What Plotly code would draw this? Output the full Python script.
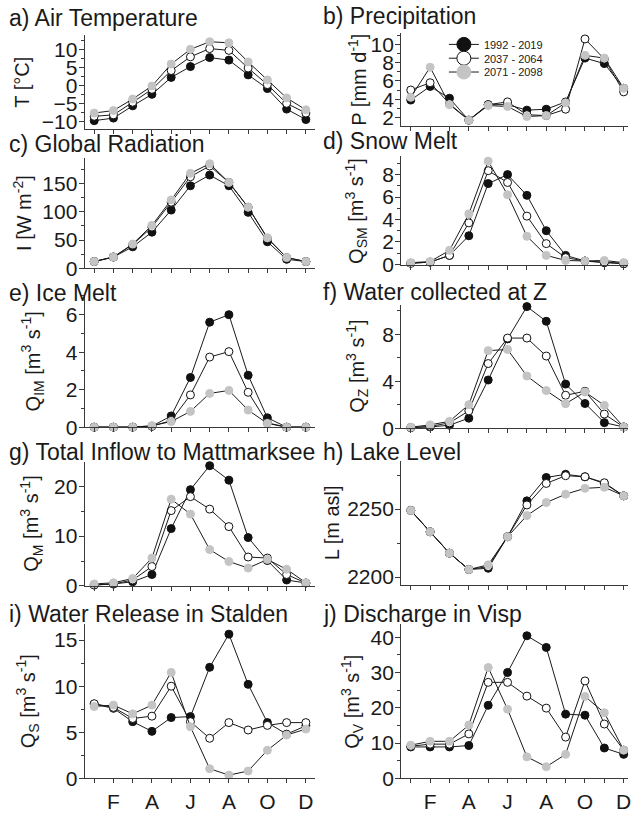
import plotly.graph_objects as go

W, H = 631, 816
months = list(range(1, 13))
month_labels = ["", "F", "", "A", "", "J", "", "A", "", "O", "", "D"]
series_names = ["1992 - 2019", "2037 - 2064", "2071 - 2098"]

# a) Air temperature [°C]
temp_1 = [-9.8, -9.1, -5.7, -2.5, 2.2, 5.2, 7.7, 7.0, 2.9, -0.9, -6.6, -9.5]
temp_2 = [-8.6, -8.2, -4.7, -1.1, 4.1, 7.9, 10.2, 9.7, 4.8, 0.2, -5.0, -7.7]
temp_3 = [-7.7, -7.0, -3.8, -0.2, 5.9, 10.0, 12.1, 11.8, 6.5, 1.5, -3.5, -6.8]
# b) Precipitation [mm/d]
prec_1 = [3.9, 5.4, 4.1, 1.7, 3.4, 3.4, 2.8, 2.9, 3.7, 8.5, 7.9, 5.2]
prec_2 = [5.0, 5.8, 3.5, 1.7, 3.4, 3.7, 2.3, 2.2, 2.9, 10.6, 8.4, 4.8]
prec_3 = [4.2, 7.5, 3.4, 1.7, 3.3, 3.2, 2.1, 2.2, 3.6, 8.8, 8.5, 5.2]
# c) Global radiation [W/m2]
rad_1 = [12, 20, 38, 64, 103, 146, 165, 146, 99, 47, 16, 12]
rad_2 = [12, 20, 42, 73, 117, 162, 181, 152, 108, 53, 19, 12]
rad_3 = [12, 20, 43, 76, 121, 168, 185, 152, 108, 54, 19, 12]
# d) Snow melt [m3/s]
snow_1 = [0.1, 0.2, 0.8, 2.55, 7.2, 8.0, 6.15, 3.0, 0.8, 0.3, 0.15, 0.05]
snow_2 = [0.1, 0.2, 0.8, 3.7, 8.35, 7.3, 4.3, 1.85, 0.6, 0.3, 0.2, 0.1]
snow_3 = [0.15, 0.25, 1.25, 4.5, 9.2, 6.2, 2.5, 0.8, 0.35, 0.3, 0.35, 0.15]
# e) Ice melt [m3/s]
ice_1 = [0.0, 0.0, 0.0, 0.05, 0.6, 2.65, 5.6, 6.0, 2.77, 0.5, 0.0, 0.0]
ice_2 = [0.0, 0.0, 0.0, 0.05, 0.35, 1.72, 3.74, 4.03, 1.86, 0.23, 0.0, 0.0]
ice_3 = [0.0, 0.0, 0.0, 0.08, 0.3, 0.84, 1.8, 1.96, 0.91, 0.2, 0.0, 0.0]
# f) Water collected at Z [m3/s]
qz_1 = [0.05, 0.1, 0.25, 0.85, 4.1, 7.6, 10.35, 9.1, 3.75, 2.1, 0.47, 0.1]
qz_2 = [0.05, 0.15, 0.45, 1.47, 5.5, 7.67, 7.67, 6.14, 2.8, 3.14, 1.2, 0.1]
qz_3 = [0.08, 0.28, 0.58, 2.0, 6.6, 6.7, 4.44, 3.2, 2.08, 3.08, 1.94, 0.1]
# g) Total inflow to Mattmarksee [m3/s]
qm_1 = [0.2, 0.4, 0.85, 2.3, 11.5, 19.3, 24.1, 21.2, 9.7, 5.1, 1.2, 0.6]
qm_2 = [0.2, 0.4, 1.2, 3.9, 15.1, 17.9, 15.4, 11.9, 5.8, 5.6, 2.3, 0.6]
qm_3 = [0.4, 0.65, 1.5, 5.6, 17.4, 14.4, 7.3, 4.9, 3.6, 5.3, 3.35, 0.65]
# h) Lake level [m asl]
lake_1 = [2249, 2233.3, 2217.6, 2205.6, 2206.5, 2229.7, 2256, 2273.2, 2275.5, 2273.7, 2268.8, 2259.7]
lake_2 = [2249, 2233.3, 2217.6, 2205.6, 2207.7, 2229.7, 2253, 2268.8, 2274.5, 2273.7, 2269.3, 2259.7]
lake_3 = [2249, 2233.3, 2217.6, 2205.6, 2209.0, 2229.7, 2245.2, 2254.8, 2260.9, 2265.2, 2266.0, 2259.7]
# i) Water release in Stalden [m3/s]
qs_1 = [8.05, 7.6, 6.15, 5.1, 6.6, 6.7, 12.05, 15.65, 10.2, 6.05, 4.8, 5.7]
qs_2 = [8.1, 7.7, 6.5, 6.75, 10.0, 6.15, 4.35, 6.05, 5.25, 5.75, 6.05, 6.05]
qs_3 = [7.8, 7.95, 7.0, 7.95, 11.5, 5.6, 1.05, 0.35, 0.8, 3.05, 4.7, 5.35]
# j) Discharge in Visp [m3/s]
qv_1 = [8.9, 8.9, 8.9, 9.3, 20.7, 30.0, 40.4, 37.1, 18.2, 17.9, 8.6, 6.8]
qv_2 = [9.1, 9.7, 9.7, 12.6, 27.2, 27.2, 23.3, 19.9, 11.7, 27.6, 15.4, 8.0]
qv_3 = [9.4, 10.5, 10.5, 15.1, 31.4, 19.6, 6.1, 3.3, 6.8, 23.2, 18.6, 8.0]

panels = [
    # title, ytitle, data, box px (x0,x1,y0,y1), yrange, dtick, minor, ytitle x px
    ("a) Air Temperature", "T [°C]", (temp_1, temp_2, temp_3), (85, 317, 35, 131), (-12.19, 14.1), 5, 2.5, 22),
    ("b) Precipitation", "P [mm d<sup>-1</sup>]", (prec_1, prec_2, prec_3), (403, 631, 33, 128), (1.03, 11.3), 2, 1, 359),
    ("c) Global Radiation", "I [W m<sup>-2</sup>]", (rad_1, rad_2, rad_3), (85, 317, 160, 272), (0, 195.4), 50, 25, 22),
    ("d) Snow Melt", "Q<sub>SM</sub> [m<sup>3</sup> s<sup>-1</sup>]", (snow_1, snow_2, snow_3), (403, 631, 158, 269), (-0.09, 9.67), 2, 1, 358),
    ("e) Ice Melt", "Q<sub>IM</sub> [m<sup>3</sup> s<sup>-1</sup>]", (ice_1, ice_2, ice_3), (85, 317, 300, 433), (0, 7.0), 2, 1, 33),
    ("f) Water collected at Z", "Q<sub>Z</sub> [m<sup>3</sup> s<sup>-1</sup>]", (qz_1, qz_2, qz_3), (403, 631, 309, 434), (0, 10.5), 4, 2, 359),
    ("g) Total Inflow to Mattmarksee", "Q<sub>M</sub> [m<sup>3</sup> s<sup>-1</sup>]", (qm_1, qm_2, qm_3), (85, 317, 468, 594), (0, 24.9), 10, 5, 32),
    ("h) Lake Level", "L [m asl]", (lake_1, lake_2, lake_3), (403, 631, 467, 593), (2194.2, 2285.5), 50, 25, 333),
    ("i) Water Release in Stalden", "Q<sub>S</sub> [m<sup>3</sup> s<sup>-1</sup>]", (qs_1, qs_2, qs_3), (85, 317, 633, 789), (0, 16.7), 5, 2.5, 28),
    ("j) Discharge in Visp", "Q<sub>V</sub> [m<sup>3</sup> s<sup>-1</sup>]", (qv_1, qv_2, qv_3), (403, 631, 633, 789), (0, 43.6), 10, 5, 354),
]

FONT = "Liberation Sans, Arial, sans-serif"
AX = "#3a3a3a"
styles = [
    dict(color="#111111", line=dict(color="#111111", width=1)),
    dict(color="#ffffff", line=dict(color="#111111", width=1)),
    dict(color="#c4c4c4", line=dict(color="#c4c4c4", width=1)),
]

fig = go.Figure()
layout = {}
annotations = []

def px_x(v):
    return v / W

def px_y(v):
    return 1 - v / H

for i, (title, ytitle, data, box, yr, dt, mdt, ytx) in enumerate(panels):
    n = i + 1
    sfx = "" if n == 1 else str(n)
    x0, x1, y0, y1 = box
    left_col = x0 < 200
    bottom_row = n >= 9
    for k, ys in enumerate(data):
        fig.add_trace(go.Scatter(
            x=months, y=ys, mode="lines+markers",
            name=series_names[k], showlegend=False,
            line=dict(color="#1a1a1a", width=1),
            marker=dict(size=8, **styles[k]),
            cliponaxis=False,
            xaxis="x" + sfx, yaxis="y" + sfx,
        ))
    xr = (0.5, 12.5) if left_col else (0.5, 0.5 + (x1 - x0) / 19.45)
    layout["xaxis" + sfx] = dict(
        domain=[px_x(x0), px_x(x1)], range=list(xr), anchor="y" + sfx,
        tickmode="array", tickvals=months, ticktext=month_labels,
        showticklabels=bottom_row, ticks="outside", ticklen=4, tickwidth=1,
        tickcolor=AX, showline=True, linecolor=AX, linewidth=1,
        showgrid=False, zeroline=False, ticklabeloverflow="allow",
        tickfont=dict(size=21, color="#1a1a1a", family=FONT),
    )
    layout["yaxis" + sfx] = dict(
        domain=[px_y(y1), px_y(y0)], range=list(yr), anchor="x" + sfx,
        dtick=dt, tick0=0, ticks="outside", ticklen=5, tickwidth=1, tickcolor=AX,
        minor=dict(dtick=mdt, tick0=0, ticks="outside", ticklen=3, tickcolor=AX),
        showline=True, linecolor=AX, linewidth=1,
        showgrid=False, zeroline=False, ticklabelstandoff=-3,
        tickfont=dict(size=21, color="#1a1a1a", family=FONT),
    )
    # panel title
    tx = 7 if left_col else 323
    ty_top = {1: 3, 2: 1, 3: 131, 4: 128, 5: 282, 6: 281, 7: 443, 8: 443, 9: 607, 10: 607}[n]
    annotations.append(dict(
        text=title, xref="paper", yref="paper", x=px_x(tx), y=px_y(ty_top),
        xanchor="left", yanchor="top", showarrow=False,
        font=dict(size=23, color="#1a1a1a", family=FONT),
    ))
    # y axis title
    annotations.append(dict(
        text=ytitle, xref="paper", yref="paper", x=px_x(ytx), y=px_y((y0 + y1) / 2),
        xanchor="center", yanchor="middle", textangle=-90, showarrow=False,
        font=dict(size=20, color="#1a1a1a", family=FONT),
    ))

# legend entries (one legend per series so the rows can be packed tightly)
legend_keys = ["legend", "legend2", "legend3"]
legend_rows_px = [45, 59, 73]
for k in range(3):
    fig.add_trace(go.Scatter(
        x=[None], y=[None], mode="lines+markers", name=series_names[k],
        showlegend=True, legend=legend_keys[k],
        line=dict(color="#1a1a1a", width=1),
        marker=dict(size=14, **styles[k]),
        xaxis="x2", yaxis="y2",
    ))
    layout[legend_keys[k]] = dict(
        x=px_x(446), y=px_y(legend_rows_px[k]), xanchor="left", yanchor="middle",
        bgcolor="rgba(0,0,0,0)", borderwidth=0,
        font=dict(size=11, family=FONT, color="#1a1a1a"),
        itemsizing="trace",
    )

fig.update_layout(
    width=W, height=H,
    margin=dict(l=0, r=0, t=0, b=0),
    paper_bgcolor="white", plot_bgcolor="white",
    font=dict(family=FONT, color="#1a1a1a"),
    annotations=annotations,
    showlegend=True,
    **layout,
)

fig.write_html("out.html")
